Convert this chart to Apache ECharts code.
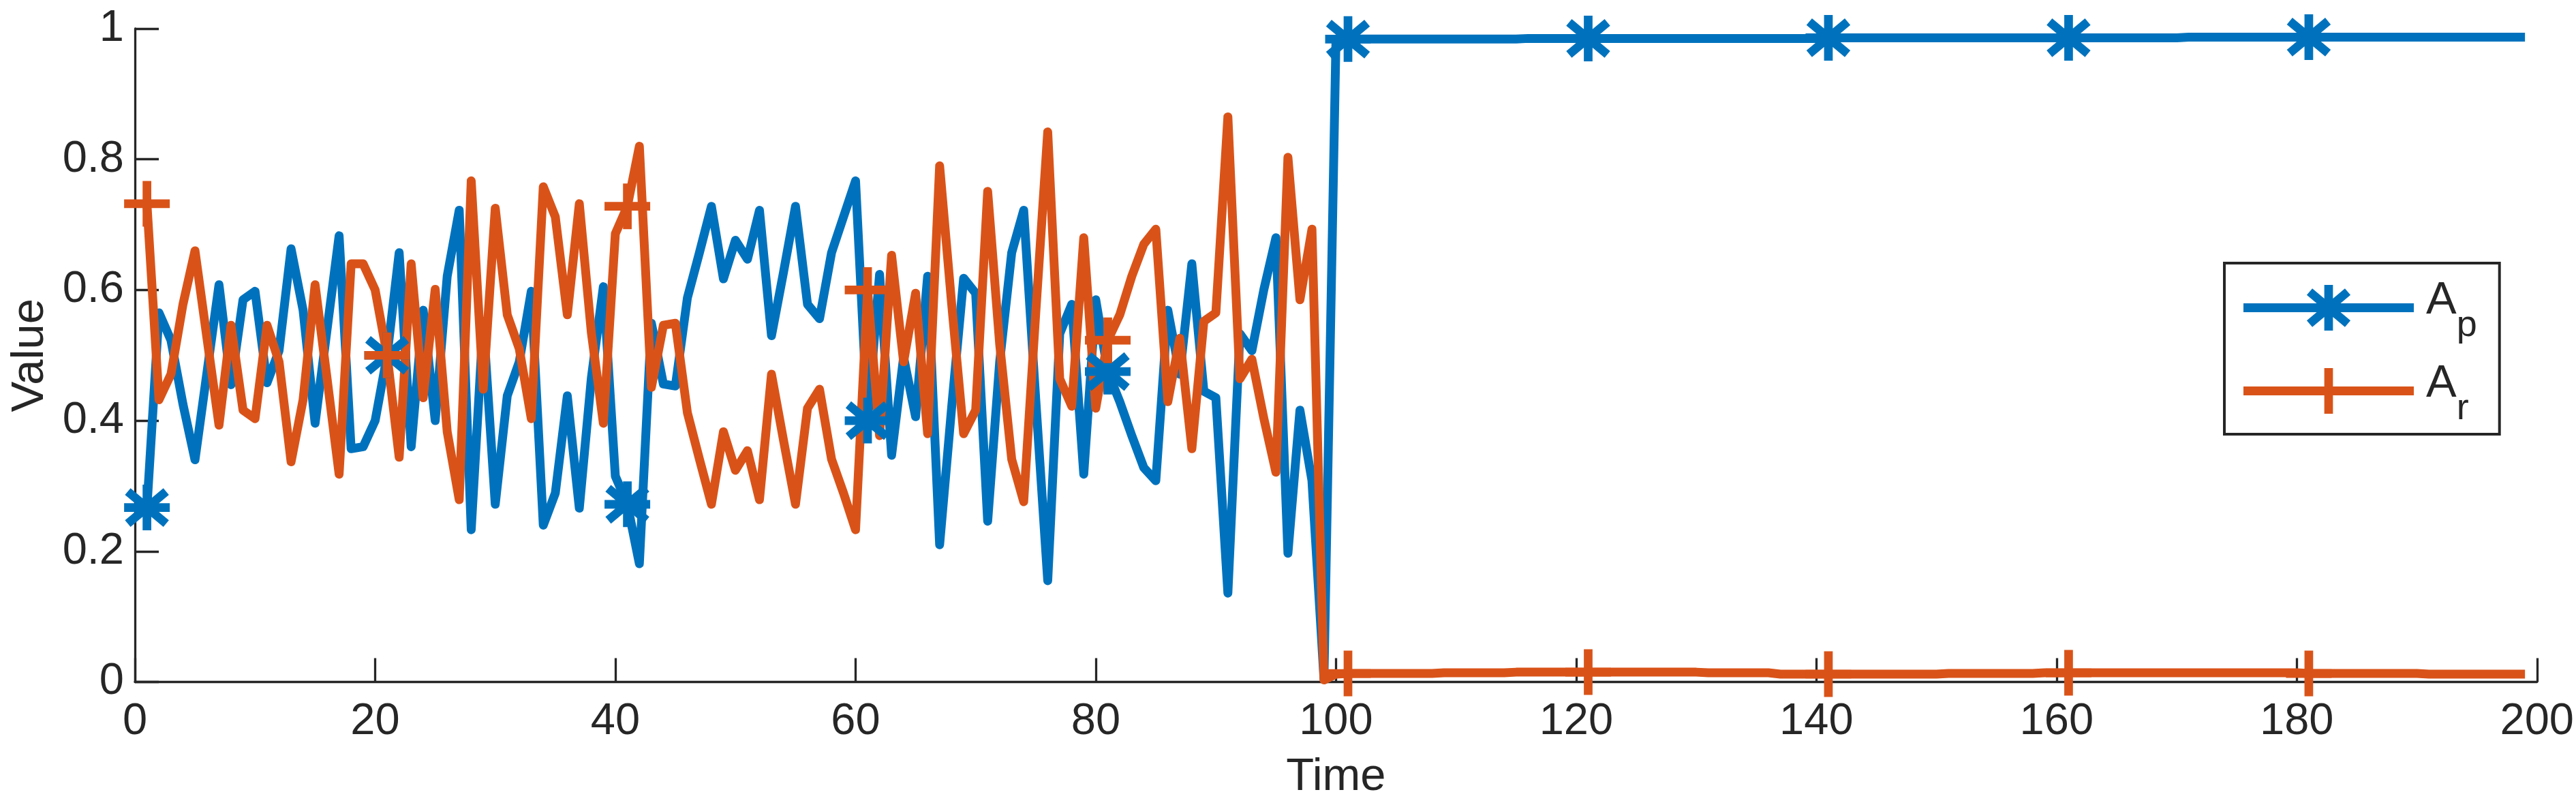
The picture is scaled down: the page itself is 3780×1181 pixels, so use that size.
<!DOCTYPE html>
<html>
<head>
<meta charset="utf-8">
<script src="https://cdn.jsdelivr.net/npm/echarts@6/dist/echarts.min.js"></script>
<style>
html,body{margin:0;padding:0;background:#fff;}
#chart{width:3780px;height:1181px;}
</style>
</head>
<body>
<div id="chart"></div>
<script>
// ---- data ----
const timeStart = 1;           // first time step
const xTicks = [0, 20, 40, 60, 80, 100, 120, 140, 160, 180, 200];
const yTicks = [0, 0.2, 0.4, 0.6, 0.8, 1];
const markerTimes = [1, 21, 41, 61, 81, 101, 121, 141, 161, 181];
const seriesNames = ['Ap', 'Ar'];

const apValues = [
 0.267,0.565,0.523,0.425,0.340,0.474,0.608,0.455,0.585,0.598,
 0.458,0.507,0.663,0.569,0.396,0.540,0.683,0.357,0.360,0.400,
 0.500,0.657,0.360,0.569,0.400,0.621,0.722,0.233,0.552,0.272,
 0.438,0.490,0.598,0.240,0.289,0.438,0.266,0.465,0.605,0.315,
 0.272,0.181,0.549,0.456,0.453,0.588,0.657,0.728,0.617,0.676,
 0.647,0.722,0.530,0.627,0.728,0.578,0.556,0.657,0.712,0.767,
 0.400,0.624,0.347,0.497,0.406,0.621,0.210,0.420,0.618,0.595,
 0.246,0.490,0.657,0.722,0.433,0.155,0.533,0.578,0.318,0.585,
 0.475,0.429,0.377,0.328,0.308,0.569,0.471,0.640,0.445,0.435,
 0.136,0.533,0.507,0.601,0.680,0.197,0.416,0.308,0.005,0.983,
 0.984,0.984,0.984,0.984,0.984,0.984,0.984,0.984,0.984,0.984,
 0.984,0.984,0.984,0.984,0.984,0.985,0.985,0.985,0.985,0.985,
 0.985,0.985,0.985,0.985,0.985,0.985,0.985,0.985,0.985,0.985,
 0.985,0.985,0.985,0.985,0.985,0.985,0.985,0.985,0.985,0.985,
 0.986,0.986,0.986,0.986,0.986,0.986,0.986,0.986,0.986,0.986,
 0.986,0.986,0.986,0.986,0.986,0.986,0.986,0.986,0.986,0.986,
 0.986,0.986,0.986,0.986,0.986,0.986,0.986,0.986,0.986,0.986,
 0.987,0.987,0.987,0.987,0.987,0.987,0.987,0.987,0.987,0.987,
 0.987,0.987,0.987,0.987,0.987,0.987,0.987,0.987,0.987,0.987,
 0.987,0.987,0.987,0.987,0.987,0.987,0.987,0.987,0.987
];

const arValues = [
 0.732,0.432,0.471,0.578,0.660,0.526,0.393,0.546,0.416,0.403,
 0.546,0.490,0.337,0.432,0.608,0.464,0.318,0.640,0.640,0.600,
 0.500,0.344,0.640,0.435,0.601,0.383,0.279,0.767,0.448,0.725,
 0.562,0.510,0.403,0.758,0.712,0.562,0.732,0.535,0.396,0.686,
 0.728,0.820,0.451,0.546,0.549,0.412,0.341,0.272,0.383,0.324,
 0.354,0.279,0.471,0.370,0.272,0.419,0.448,0.341,0.289,0.233,
 0.600,0.377,0.653,0.490,0.595,0.380,0.790,0.579,0.380,0.416,
 0.751,0.517,0.341,0.276,0.564,0.842,0.464,0.422,0.680,0.419,
 0.523,0.562,0.621,0.670,0.693,0.429,0.526,0.357,0.552,0.565,
 0.865,0.464,0.494,0.403,0.321,0.803,0.585,0.693,0.003,0.012,
 0.013,0.013,0.013,0.013,0.013,0.013,0.013,0.013,0.014,0.014,
 0.014,0.014,0.014,0.014,0.015,0.015,0.015,0.015,0.015,0.015,
 0.015,0.015,0.015,0.015,0.015,0.015,0.015,0.015,0.015,0.015,
 0.014,0.014,0.014,0.014,0.014,0.014,0.012,0.012,0.012,0.012,
 0.012,0.012,0.012,0.012,0.012,0.012,0.012,0.012,0.012,0.012,
 0.013,0.013,0.013,0.013,0.013,0.013,0.013,0.013,0.014,0.014,
 0.014,0.014,0.014,0.014,0.014,0.014,0.014,0.014,0.014,0.014,
 0.014,0.014,0.014,0.014,0.014,0.014,0.014,0.014,0.014,0.014,
 0.013,0.013,0.013,0.013,0.013,0.013,0.013,0.013,0.013,0.013,
 0.012,0.012,0.012,0.012,0.012,0.012,0.012,0.012,0.012
];

// ---- styling ----
const BLUE = '#0072BD', ORANGE = '#D95319', INK = '#262626';
const FONT = "'Liberation Sans', Arial, Helvetica, sans-serif";
const LINE_W = 13;

const ASTERISK = 'path://M0 40.5H100V59.5H0Z M40.5 0H59.5V100H40.5Z ' +
  'M14.08 7.7L98.08 77.7L85.92 92.3L1.92 22.3Z M1.92 77.7L85.92 7.7L98.08 22.3L14.08 92.3Z';
const PLUS = 'path://M0 40.5H100V59.5H0Z M40.5 0H59.5V100H40.5Z';
const LEG_AP = 'path://M0 27H250V40H0Z M118.65 0H131.35V67H118.65Z ' +
  'M101.08 5.14L157.08 52.14L148.92 61.86L92.92 14.86Z M92.92 52.14L148.92 5.14L157.08 14.86L101.08 61.86Z';
const LEG_AR = 'path://M0 27H250V40H0Z M118.65 0H131.35V67H118.65Z';

function buildData(values) {
  return values.map(function (v, i) {
    const t = timeStart + i;
    if (markerTimes.indexOf(t) >= 0) return { value: [t, v] };
    return { value: [t, v], symbol: 'none' };
  });
}

const chart = echarts.init(document.getElementById('chart'), null, { renderer: 'canvas' });

const axisCommon = {
  axisLine: { show: true, onZero: false, lineStyle: { color: INK, width: 3.3 } },
  axisTick: { show: true, inside: true, length: 35, lineStyle: { color: INK, width: 3.3 } },
  splitLine: { show: false },
  nameTextStyle: { color: INK, fontFamily: FONT, fontSize: 67 }
};

chart.setOption({
  animation: false,
  backgroundColor: '#ffffff',
  textStyle: { fontFamily: FONT },
  grid: { left: 198, right: 57, top: 42, bottom: 180.5, containLabel: false },
  xAxis: Object.assign({}, axisCommon, {
    type: 'value',
    min: xTicks[0], max: xTicks[xTicks.length - 1], interval: xTicks[1] - xTicks[0],
    name: 'Time', nameLocation: 'middle', nameGap: 107,
    axisLabel: { color: INK, fontFamily: FONT, fontSize: 65, margin: 26 }
  }),
  yAxis: Object.assign({}, axisCommon, {
    type: 'value',
    min: yTicks[0], max: yTicks[yTicks.length - 1], interval: yTicks[1] - yTicks[0],
    name: 'Value', nameLocation: 'middle', nameGap: 120, nameRotate: 90,
    axisLabel: { color: INK, fontFamily: FONT, fontSize: 65, margin: 16,
      formatter: function (v) { return String(+v.toFixed(1)); } }
  }),
  legend: {
    orient: 'vertical',
    left: 3264, top: 386,
    padding: [12, 33, 10, 28],
    itemWidth: 250, itemHeight: 67, itemGap: 15,
    backgroundColor: '#ffffff',
    borderColor: INK, borderWidth: 4, borderRadius: 0,
    selectedMode: false,
    itemStyle: { borderWidth: 0 },
    data: [
      { name: seriesNames[0], icon: LEG_AP },
      { name: seriesNames[1], icon: LEG_AR }
    ],
    formatter: function (name) {
      return name === 'Ap' ? '{a|A}{s|p}' : '{a|A}{s|r}';
    },
    textStyle: {
      color: INK, fontFamily: FONT,
      rich: {
        a: { fontSize: 67, lineHeight: 87, color: INK, fontFamily: FONT, padding: [0, 0, 20, 13] },
        s: { fontSize: 54, lineHeight: 107, color: INK, fontFamily: FONT, padding: [53, 0, 0, 0] }
      }
    }
  },
  series: [
    {
      name: seriesNames[0], type: 'line',
      data: buildData(apValues),
      symbol: ASTERISK, symbolSize: 67, showSymbol: true, clip: false,
      lineStyle: { color: BLUE, width: LINE_W, join: 'round', cap: 'butt' },
      itemStyle: { color: BLUE, borderWidth: 0 },
      emphasis: { disabled: true },
      silent: true
    },
    {
      name: seriesNames[1], type: 'line',
      data: buildData(arValues),
      symbol: PLUS, symbolSize: 67, showSymbol: true, clip: false,
      lineStyle: { color: ORANGE, width: LINE_W, join: 'round', cap: 'butt' },
      itemStyle: { color: ORANGE, borderWidth: 0 },
      emphasis: { disabled: true },
      silent: true
    }
  ]
});
</script>
</body>
</html>
